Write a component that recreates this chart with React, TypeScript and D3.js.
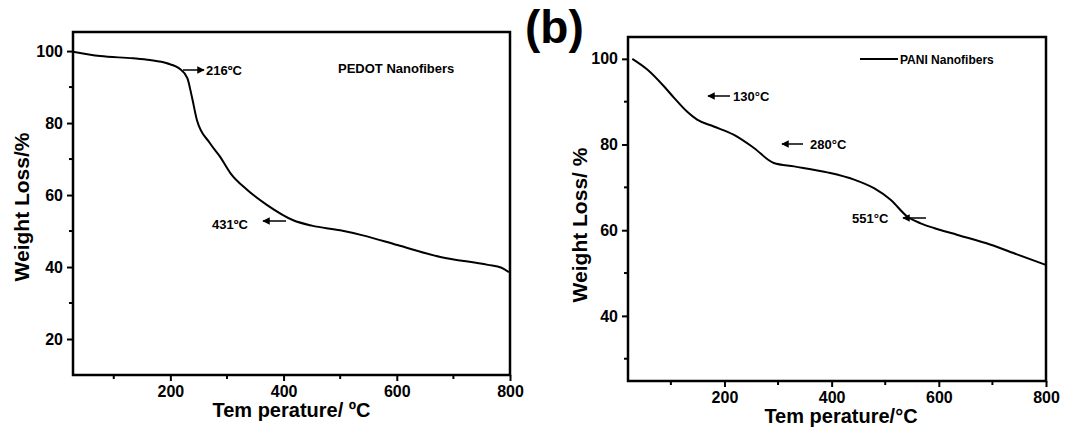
import React, { useEffect, useRef } from "react";
import * as d3 from "d3";

// PEDOT nanofibers TGA curve
const pedotTemp = [28, 76, 134, 164, 194, 217, 230, 238, 247, 270, 288, 306, 336, 371, 417, 450, 500, 540, 601, 677, 761, 785, 798];
const pedotWeight = [99.8, 98.6, 98.0, 97.5, 96.6, 95.0, 92.5, 87.3, 80.8, 74.4, 70.6, 66.1, 61.4, 57.2, 53.0, 51.5, 50.2, 48.8, 46.1, 42.8, 40.6, 39.8, 38.6];

// PANI nanofibers TGA curve (panel b)
const paniTemp = [28, 56, 87, 106, 130, 149, 180, 217, 255, 292, 330, 392, 442, 479, 510, 541, 566, 591, 635, 697, 747, 800];
const paniWeight = [100, 97.5, 93.6, 90.9, 87.7, 85.8, 84.2, 82.3, 79.2, 75.7, 74.9, 73.5, 71.8, 69.8, 67.1, 63.2, 61.6, 60.5, 58.9, 56.6, 54.3, 51.9];

const xTicks = [200, 400, 600, 800];
const xMinor = [100, 300, 500, 700];
const pedotYTicks = [20, 40, 60, 80, 100];
const pedotYMinor = [30, 50, 70, 90];
const paniYTicks = [40, 60, 80, 100];
const paniYMinor = [30, 50, 70, 90];

const FONT = "Arial, 'Liberation Sans', sans-serif";

function drawPanel(svg, o) {
  const x = d3.scaleLinear().domain(o.xDomain).range([o.left, o.right]);
  const y = d3.scaleLinear().domain(o.yDomain).range([o.bottom, o.top]);
  const g = svg.append("g");

  // minor ticks
  g.selectAll(".xm").data(xMinor).join("line")
    .attr("x1", d => x(d)).attr("x2", d => x(d))
    .attr("y1", o.bottom).attr("y2", o.bottom + 4)
    .attr("stroke", "#000").attr("stroke-width", 2);
  g.selectAll(".ym").data(o.yMinor).join("line")
    .attr("x1", o.left - 4).attr("x2", o.left)
    .attr("y1", d => y(d)).attr("y2", d => y(d))
    .attr("stroke", "#000").attr("stroke-width", 2);

  const xAxis = g.append("g")
    .attr("transform", `translate(0,${o.bottom})`)
    .call(d3.axisBottom(x).tickValues(xTicks).tickSize(6).tickPadding(5).tickSizeOuter(0));
  const yAxis = g.append("g")
    .attr("transform", `translate(${o.left},0)`)
    .call(d3.axisLeft(y).tickValues(o.yTicks).tickSize(6).tickPadding(4).tickSizeOuter(0));
  [xAxis, yAxis].forEach(a => {
    a.select(".domain").remove();
    a.selectAll(".tick line").attr("stroke-width", 2);
    a.selectAll(".tick text")
      .attr("font-family", FONT).attr("font-weight", "bold")
      .attr("font-size", 16).attr("fill", "#000");
  });

  // frame
  g.append("rect")
    .attr("x", o.left).attr("y", o.top)
    .attr("width", o.right - o.left).attr("height", o.bottom - o.top)
    .attr("fill", "none").attr("stroke", "#000").attr("stroke-width", 2.5);

  const line = d3.line().x(d => x(d[0])).y(d => y(d[1])).curve(d3.curveMonotoneX);
  g.append("path")
    .attr("d", line(d3.zip(o.temp, o.weight)))
    .attr("fill", "none").attr("stroke", "#000").attr("stroke-width", 2);

  g.append("text")
    .attr("x", (o.left + o.right) / 2 + o.xTitleDx).attr("y", o.xTitleY)
    .attr("text-anchor", "middle").attr("font-family", FONT)
    .attr("font-weight", "bold").attr("font-size", 20).text(o.xTitle);

  g.append("text")
    .attr("transform", `translate(${o.yTitleX},${o.yTitleY}) rotate(-90)`)
    .attr("text-anchor", "middle").attr("font-family", FONT)
    .attr("font-weight", "bold").attr("font-size", 21).text(o.yTitle);

  return { x, y, g };
}

function arrow(g, x1, y1, x2, y2) {
  g.append("line")
    .attr("x1", x1).attr("y1", y1).attr("x2", x2).attr("y2", y2)
    .attr("stroke", "#000").attr("stroke-width", 1.5)
    .attr("marker-end", "url(#head)");
}

function label(g, x, y, t, size = 13) {
  g.append("text").attr("x", x).attr("y", y)
    .attr("font-family", FONT).attr("font-weight", "bold")
    .attr("font-size", size).attr("fill", "#000").text(t);
}

export default function App() {
  const ref = useRef(null);

  useEffect(() => {
    const svg = d3.select(ref.current);
    svg.selectAll("*").remove();

    svg.append("defs").append("marker")
      .attr("id", "head").attr("viewBox", "0 0 10 10")
      .attr("refX", 9).attr("refY", 5)
      .attr("markerWidth", 5).attr("markerHeight", 5)
      .attr("orient", "auto")
      .append("path").attr("d", "M0,0 L10,5 L0,10 Z").attr("fill", "#000");

    const a = drawPanel(svg, {
      left: 73, right: 510, top: 32, bottom: 375,
      xDomain: [28, 800], yDomain: [10, 105.3],
      yTicks: pedotYTicks, yMinor: pedotYMinor,
      temp: pedotTemp, weight: pedotWeight,
      xTitle: "Tem perature/ ºC", xTitleY: 417, xTitleDx: 0,
      yTitle: "Weight Loss/%", yTitleX: 29, yTitleY: 207,
    });
    arrow(a.g, 183, 70, 204, 70);
    label(a.g, 206, 75, "216ºC");
    arrow(a.g, 286, 221, 263, 221);
    label(a.g, 212, 229, "431ºC");
    label(a.g, 338, 73, "PEDOT Nanofibers");

    const b = drawPanel(svg, {
      left: 628, right: 1046, top: 37, bottom: 381,
      xDomain: [20, 800], yDomain: [24.8, 105.1],
      yTicks: paniYTicks, yMinor: paniYMinor,
      temp: paniTemp, weight: paniWeight,
      xTitle: "Tem perature/°C", xTitleY: 423, xTitleDx: 4,
      yTitle: "Weight Loss/ %", yTitleX: 587, yTitleY: 225,
    });
    arrow(b.g, 730, 96, 708, 96);
    label(b.g, 733, 101, "130°C");
    arrow(b.g, 803, 144, 782, 144);
    label(b.g, 810, 149, "280°C");
    arrow(b.g, 926, 218, 903, 218);
    label(b.g, 852, 223, "551°C");
    b.g.append("line").attr("x1", 860).attr("x2", 898).attr("y1", 59).attr("y2", 59)
      .attr("stroke", "#000").attr("stroke-width", 2);
    label(b.g, 900, 64, "PANI Nanofibers", 12);

    svg.append("text").attr("x", 525).attr("y", 43)
      .attr("font-family", FONT).attr("font-weight", "bold")
      .attr("font-size", 46).text("(b)");
  }, []);

  return (
    <svg ref={ref} width={1076} height={439}
      style={{ display: "block", position: "absolute", left: 0, top: 0 }} />
  );
}
